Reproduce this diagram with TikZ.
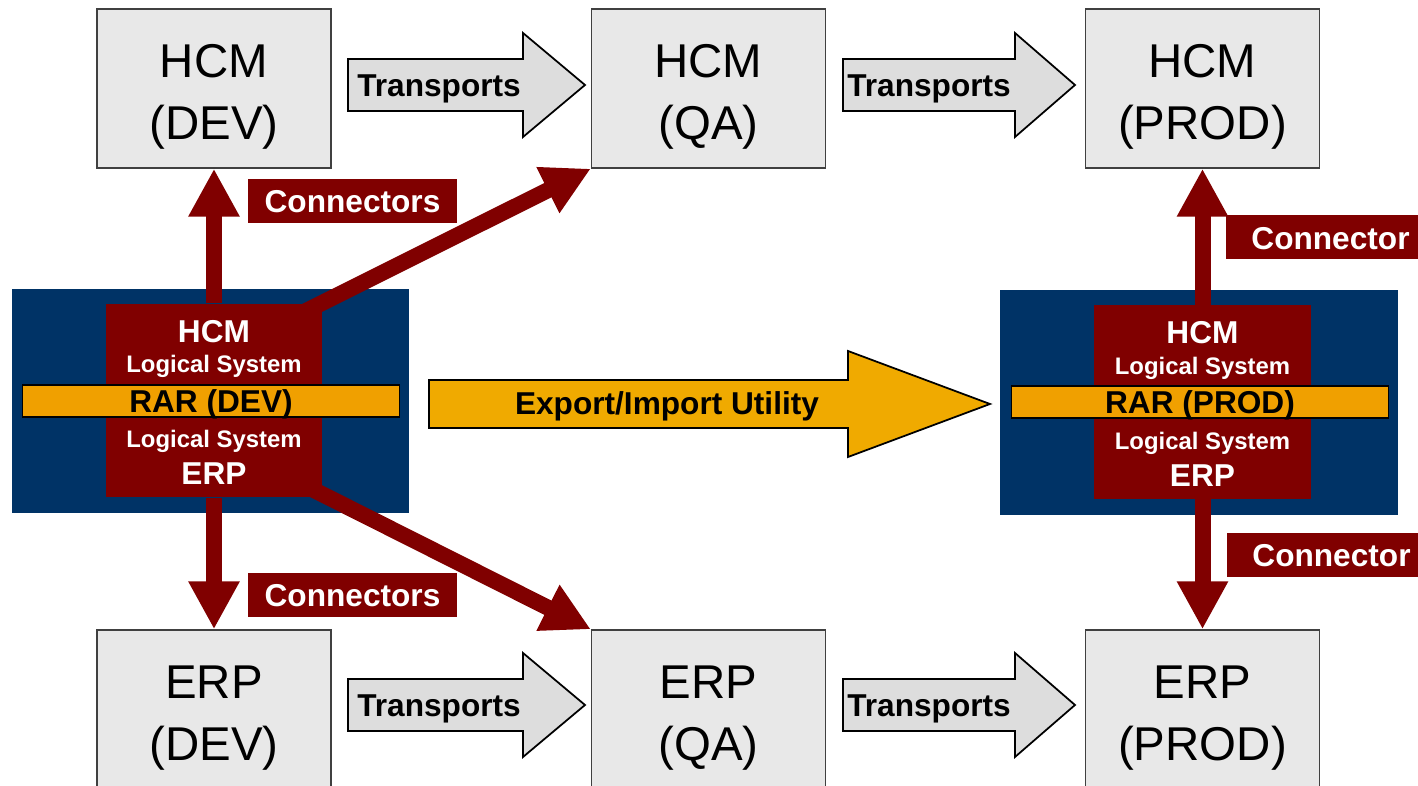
\documentclass[tikz,border=0pt]{standalone}
\usepackage{fontspec}
\setmainfont{Liberation Sans}
\usetikzlibrary{arrows.meta}

\definecolor{sapblue}{HTML}{003366}
\definecolor{sapred}{HTML}{800000}
\definecolor{rarorange}{HTML}{F0A000}
\definecolor{exportorange}{HTML}{F0AA00}
\definecolor{boxgray}{HTML}{E8E8E8}
\definecolor{arrowgray}{HTML}{DDDDDD}

\tikzset{
  sysbox/.style={draw=black!75, line width=0.8pt, fill=boxgray,
    minimum width=4.68cm, minimum height=3.18cm, inner sep=0pt},
  systext/.style={font=\fontsize{27}{35.2}\selectfont, align=center,
    anchor=north, inner sep=0pt},
  rarbox/.style={fill=sapred, minimum width=4.33cm, minimum height=3.87cm,
    inner sep=0pt},
  rarbar/.style={draw=black, line width=0.8pt, fill=rarorange,
    minimum width=7.53cm, minimum height=0.64cm, inner sep=0pt,
    font=\fontsize{18}{20}\selectfont\bfseries,
    text height=13.66pt, text depth=0pt},
  tagbox/.style={fill=sapred, text=white,
    font=\fontsize{18}{20}\selectfont\bfseries,
    minimum width=4.18cm, minimum height=0.88cm, inner sep=0pt,
    text height=13.66pt, text depth=0pt},
  link/.style={draw=sapred, line width=0.32cm,
    -{Triangle[width=0.96cm,length=0.96cm]}},
  transport/.style={draw=black, line width=1pt, fill=arrowgray},
  export/.style={draw=black, line width=1pt, fill=exportorange},
  arrowtext/.style={font=\fontsize{18}{20}\selectfont\bfseries,
    inner sep=0pt},
  sysname/.style={text=white, font=\fontsize{18}{20}\selectfont\bfseries,
    anchor=base, inner sep=0pt},
  logsys/.style={text=white, font=\fontsize{13.6}{15}\selectfont\bfseries,
    anchor=base, inner sep=0pt}
}

\begin{document}
\begin{tikzpicture}[x=0.02cm, y=-0.02cm]
  \useasboundingbox (0,0) rectangle (1418,786);
  \clip (0,0) rectangle (1418,786);

  % landscape boxes
  \node[sysbox] (hcmdev) at (214,88.5) {};
  \node[sysbox] (hcmqa) at (708.5,88.5) {};
  \node[sysbox] (hcmprod) at (1202.5,88.5) {};
  \node[sysbox] (erpdev) at (214,709.5) {};
  \node[sysbox] (erpqa) at (708.5,709.5) {};
  \node[sysbox] (erpprod) at (1202.5,709.5) {};
  \node[systext] (hcmdevtxt) at (214,44) {HCM\\(DEV)};
  \node[systext] (hcmqatxt) at (708.5,44) {HCM\\(QA)};
  \node[systext] (hcmprodtxt) at (1202.5,44) {HCM\\(PROD)};
  \node[systext] (erpdevtxt) at (214,666) {ERP\\(DEV)};
  \node[systext] (erpqatxt) at (708.5,666) {ERP\\(QA)};
  \node[systext] (erpprodtxt) at (1202.5,666) {ERP\\(PROD)};

  % transports
  \draw[transport] (348,59) -- (523,59) -- (523,33) -- (585,85)
    -- (523,137) -- (523,111) -- (348,111) -- cycle;
  \draw[transport] (843,59) -- (1015,59) -- (1015,33) -- (1075,85)
    -- (1015,137) -- (1015,111) -- (843,111) -- cycle;
  \draw[transport] (348,679) -- (523,679) -- (523,653) -- (585,705)
    -- (523,757) -- (523,731) -- (348,731) -- cycle;
  \draw[transport] (843,679) -- (1015,679) -- (1015,653) -- (1075,705)
    -- (1015,757) -- (1015,731) -- (843,731) -- cycle;
  \node[arrowtext, anchor=base west] (trhcm1) at (357,97) {Transports};
  \node[arrowtext, anchor=base west] (trhcm2) at (847,97) {Transports};
  \node[arrowtext, anchor=base west] (trerp1) at (357,717) {Transports};
  \node[arrowtext, anchor=base west] (trerp2) at (847,717) {Transports};

  % RAR systems
  \fill[sapblue] (12,289) rectangle (409,513);
  \fill[sapblue] (1000,290) rectangle (1398,515);
  \node[rarbox] (rardev) at (214,400.5) {};
  \node[rarbox] (rarprod) at (1202.5,402) {};
  \coordinate (devhcm) at (280,324);
  \coordinate (deverp) at (280,473);

  \draw[link] (rardev.north) -- (hcmdev.south);
  \draw[link] (devhcm) -- (hcmqa.south west);
  \draw[link] (rardev.south) -- (erpdev.north);
  \draw[link] (deverp) -- (erpqa.north west);
  \draw[link] (rarprod.north) -- (hcmprod.south);
  \draw[link] (rarprod.south) -- (erpprod.north);

  \node[rarbar] (rarbardev) at (211,401) {RAR (DEV)};
  \node[rarbar] (rarbarprod) at (1200,402) {RAR (PROD)};
  \node[sysname] (devhcmname) at (214,343) {HCM};
  \node[logsys] (devhcmls) at (214,373) {Logical System};
  \node[logsys] (deverpls) at (214,448) {Logical System};
  \node[sysname] (deverpname) at (214,485) {ERP};
  \node[sysname] (prodhcmname) at (1202.5,344) {HCM};
  \node[logsys] (prodhcmls) at (1202.5,375) {Logical System};
  \node[logsys] (proderpls) at (1202.5,450) {Logical System};
  \node[sysname] (proderpname) at (1202.5,487) {ERP};

  % export / import
  \draw[export] (429,380) -- (848,380) -- (848,351) -- (990,404)
    -- (848,457) -- (848,428) -- (429,428) -- cycle;
  \node[arrowtext, anchor=base] (exporttxt) at (667,415) {Export/Import Utility};

  % connector tags
  \node[tagbox] (tagdevhcm) at (352.5,201) {Connectors};
  \node[tagbox] (tagdeverp) at (352.5,595) {Connectors};
  \node[tagbox] (tagprodhcm) at (1330.5,237.5) {Connector};
  \node[tagbox] (tagproderp) at (1331.5,555) {Connector};
\end{tikzpicture}
\end{document}
